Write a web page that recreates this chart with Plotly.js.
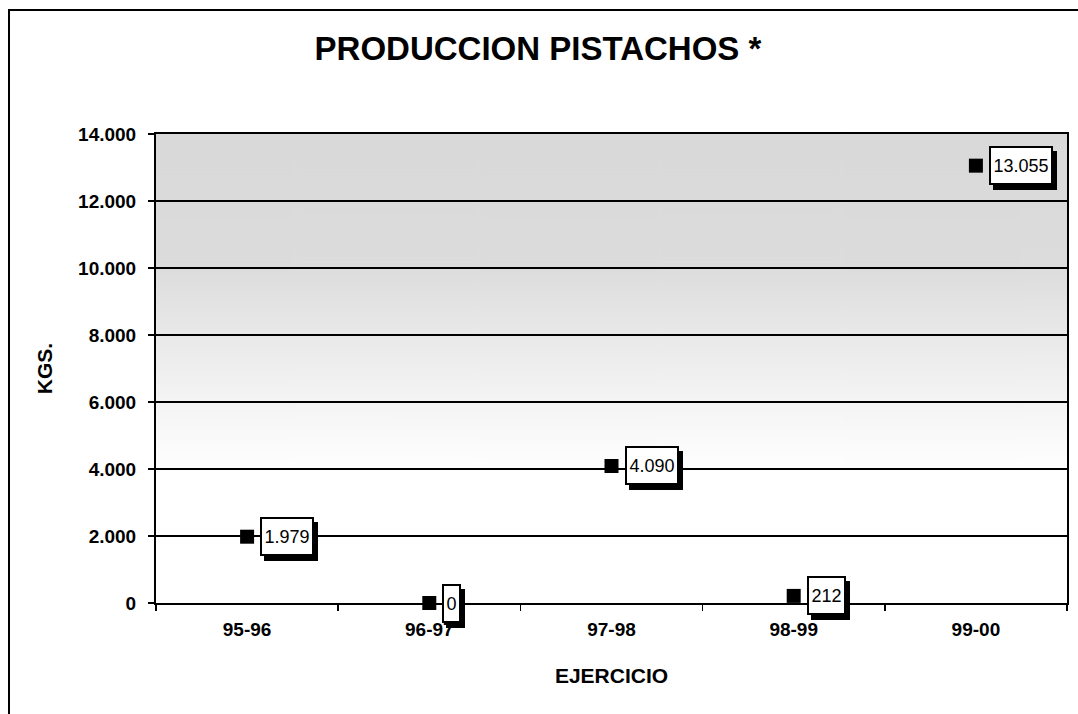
<!DOCTYPE html>
<html>
<head>
<meta charset="utf-8">
<script src="https://cdn.plot.ly/plotly-3.0.1.min.js"></script>
<style>
  html, body { margin: 0; padding: 0; background: #fff; }
  #chart { width: 1078px; height: 714px; }
  #frame { position: absolute; left: 8px; top: 9px; width: 1200px; height: 800px;
           border-top: 2px solid #000; border-left: 2px solid #000; pointer-events: none; }
</style>
</head>
<body>
<div id="chart"></div>
<div id="frame"></div>
<script>
// ---- data ----
const categories = ["95-96", "96-97", "97-98", "98-99", "99-00"];
const production = [1979, 0, 4090, 212, 13055];
const yTicks = [0, 2000, 4000, 6000, 8000, 10000, 12000, 14000];

function fmt(v) {
  return String(v).replace(/\B(?=(\d{3})+(?!\d))/g, ".");
}

const FONT = "Liberation Sans, Arial, sans-serif";
const LABEL_SIZE = 18;

function textWidth(t) {
  const c = document.createElement("canvas").getContext("2d");
  c.font = LABEL_SIZE + "px 'Liberation Sans', Arial, sans-serif";
  return c.measureText(t).width;
}

// background gradient (imitates the stippled shading)
function makeBg() {
  const c = document.createElement("canvas");
  c.width = 10; c.height = 470;
  const g = c.getContext("2d");
  const grad = g.createLinearGradient(0, 0, 0, 470);
  grad.addColorStop(0.0, "#d9d9d9");
  grad.addColorStop(0.28, "#dcdcdc");
  grad.addColorStop(0.43, "#e9e9e9");
  grad.addColorStop(0.58, "#f5f5f5");
  grad.addColorStop(0.72, "#ffffff");
  grad.addColorStop(1.0, "#ffffff");
  g.fillStyle = grad;
  g.fillRect(0, 0, 10, 470);
  return c.toDataURL();
}

const trace = {
  type: "scatter",
  mode: "markers",
  x: categories,
  y: production,
  marker: { symbol: "square", size: 14, color: "#000" },
  cliponaxis: false,
  hoverinfo: "x+y"
};

const annotations = [];
const BOX_H = 33, GAP = 13, PADX = 1;
categories.forEach((c, i) => {
  const t = fmt(production[i]);
  const w = Math.ceil(textWidth(t)) + 2 * PADX;
  const common = {
    x: c, y: production[i], xref: "x", yref: "y",
    showarrow: false, xanchor: "left", yanchor: "middle",
    width: w, height: BOX_H, borderpad: 1, borderwidth: 2,
    font: { family: FONT, size: LABEL_SIZE, color: "#000" }
  };
  // drop shadow
  annotations.push(Object.assign({}, common, {
    text: "&nbsp;", xshift: GAP + 4, yshift: -5,
    bgcolor: "#000", bordercolor: "#000"
  }));
  // white label box with value
  annotations.push(Object.assign({}, common, {
    text: t, xshift: GAP, yshift: 0,
    bgcolor: "#fff", bordercolor: "#000"
  }));
});

const tickFont = { family: FONT, size: 19, color: "#000", weight: "bold" };
const axTitleFont = { family: FONT, size: 21, color: "#000", weight: "bold" };

const layout = {
  width: 1078, height: 714,
  margin: { l: 156, r: 11, t: 134, b: 111 },
  paper_bgcolor: "#fff",
  plot_bgcolor: "rgba(0,0,0,0)",
  separators: ",.",
  showlegend: false,
  title: {
    text: "<b>PRODUCCION PISTACHOS *</b>",
    font: { family: FONT, size: 33, color: "#000" },
    x: 538 / 1078, xref: "container", xanchor: "center",
    y: 1 - 48 / 714, yref: "container", yanchor: "middle"
  },
  xaxis: {
    type: "category",
    range: [-0.5, 4.5],
    showgrid: false, zeroline: false,
    showline: true, linecolor: "#000", linewidth: 2, mirror: true,
    ticks: "outside", tickson: "boundaries", ticklen: 6, tickwidth: 1.5, tickcolor: "#000",
    tickfont: tickFont, ticklabelstandoff: 8,
    title: { text: "EJERCICIO", font: axTitleFont, standoff: 30 }
  },
  yaxis: {
    range: [0, 14000],
    tickvals: yTicks,
    tickformat: ",d",
    showgrid: true, gridcolor: "#000", gridwidth: 1.5,
    zeroline: false,
    showline: true, linecolor: "#000", linewidth: 2, mirror: true,
    ticks: "outside", ticklen: 6, tickwidth: 1.5, tickcolor: "#000",
    tickfont: tickFont, ticklabelstandoff: 8,
    title: { text: "KGS.", font: axTitleFont, standoff: 20 }
  },
  images: [{
    source: makeBg(), xref: "paper", yref: "paper",
    x: 0, y: 1, sizex: 1, sizey: 1, sizing: "stretch",
    xanchor: "left", yanchor: "top", layer: "below"
  }],
  annotations: annotations
};

Plotly.newPlot("chart", [trace], layout, { displayModeBar: false, staticPlot: true });
</script>
</body>
</html>
